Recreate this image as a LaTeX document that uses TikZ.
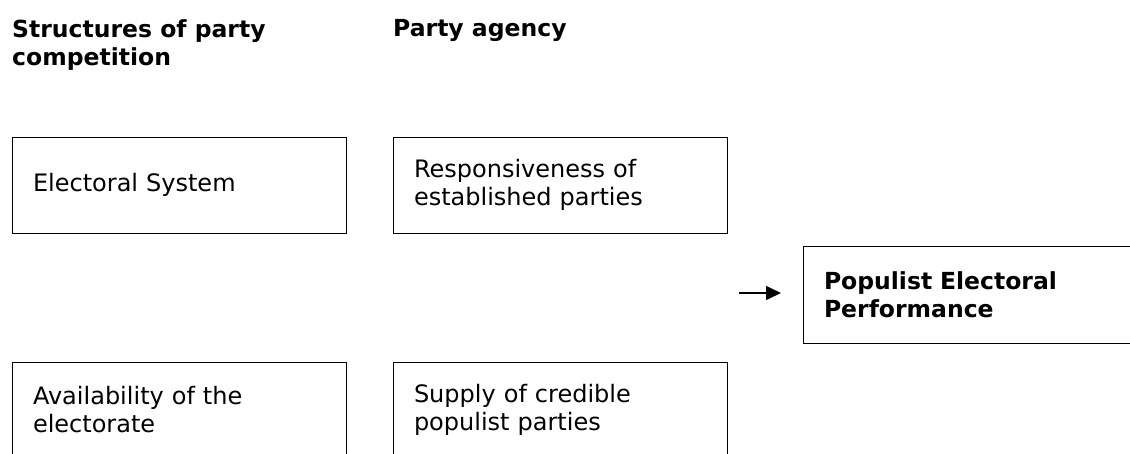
\documentclass[tikz,border=0pt]{standalone}
\usepackage{fontspec}
\setmainfont{DejaVu Sans}
\usetikzlibrary{arrows.meta}
\begin{document}
\begin{tikzpicture}[x=1pt,y=-1pt,
  factor/.style={draw,line width=1pt,text width=292pt,inner xsep=21pt,inner ysep=0pt,
    minimum height=96pt,align=left,font=\fontsize{24}{28}\selectfont},
  head/.style={anchor=north west,inner sep=0pt,align=left,font=\fontsize{23.5}{28}\selectfont\bfseries}]
\useasboundingbox (0,0) rectangle (1130,453);
% column heads
\node[head] (structures) at (12,19) {Structures of party\\competition};
\node[head] (agency) at (393,19) {Party agency};
% the four factors
\node[factor] (electoral) at (179,185) {Electoral System};
\node[factor] (responsive) at (560,185) {Responsiveness of\\established parties};
\node[factor] (available) at (179,410) {Availability of the\\electorate};
\node[factor] (supply) at (560,410) {Supply of credible\\populist parties};
% outcome
\node[factor,minimum height=97pt,font=\fontsize{23.5}{28}\selectfont\bfseries] (performance) at (970,294.5) {Populist Electoral\\Performance};
\coordinate (arrowstart) at (739,293);
\coordinate (arrowend) at (781,293);
\draw[line width=1.5pt,-{Triangle[length=15pt,width=14pt]}] (arrowstart) -- (arrowend);
%\draw (responsive.east) -- (arrowstart);
\end{tikzpicture}
\end{document}
